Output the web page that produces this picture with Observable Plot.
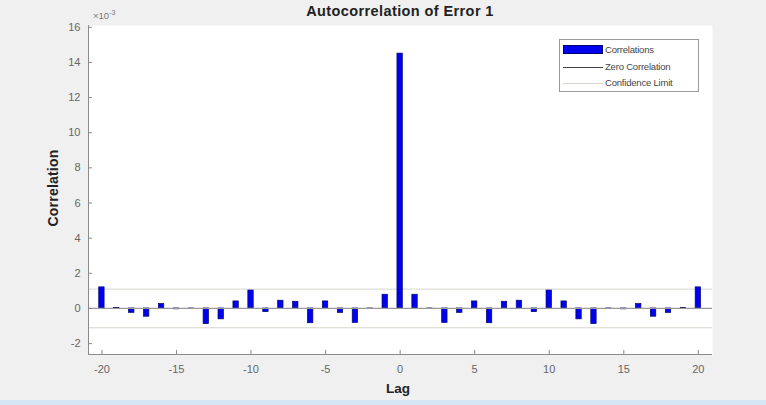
<!DOCTYPE html>
<html><head><meta charset="utf-8">
<script src="https://cdn.jsdelivr.net/npm/d3@7"></script>
<script src="https://cdn.jsdelivr.net/npm/@observablehq/plot@0.6"></script>
<style>
html,body{margin:0;padding:0;background:#f0f0f0;}
#wrap{position:relative;width:766px;height:405px;background:#f0f0f0;font-family:"Liberation Sans",Arial,sans-serif;overflow:hidden;}
#wrap svg{position:absolute;left:0;top:0;background:transparent;}
.t{position:absolute;white-space:nowrap;}
</style></head>
<body><div id="wrap"></div>
<script>
const lags = [-20,-19,-18,-17,-16,-15,-14,-13,-12,-11,-10,-9,-8,-7,-6,-5,-4,-3,-2,-1,0,1,2,3,4,5,6,7,8,9,10,11,12,13,14,15,16,17,18,19,20];
const correlations = [1.2,0.02,-0.25,-0.47,0.25,-0.05,-0.04,-0.89,-0.62,0.4,1.02,-0.21,0.44,0.38,-0.84,0.4,-0.25,-0.82,-0.04,0.78,14.5,0.78,-0.04,-0.82,-0.25,0.4,-0.84,0.38,0.44,-0.21,1.02,0.4,-0.62,-0.89,-0.04,-0.05,0.25,-0.47,-0.25,0.02,1.2];
const confidenceLimit = 1.1;
const yTicks = [-2,0,2,4,6,8,10,12,14,16];
const xTicks = [-20,-15,-10,-5,0,5,10,15,20];
const titleText = "Autocorrelation of Error 1";
const xLabel = "Lag";
const yLabel = "Correlation";
const legendLabels = ["Correlations","Zero Correlation","Confidence Limit"];

const data = lags.map((l,i)=>({lag:l, v:correlations[i]}));
const xDom = [-20.9, 20.95];
const yDom = [-2.62, 16.1];

const chart = Plot.plot({
  width:766, height:405,
  marginLeft:88, marginRight:54, marginTop:25, marginBottom:51,
  style:{background:"transparent", color:"#666", fontFamily:"Liberation Sans, Arial, sans-serif", fontSize:"11px"},
  x:{domain:xDom},
  y:{domain:yDom},
  marks:[
    Plot.frame({fill:"white", stroke:null}),
    Plot.ruleY([confidenceLimit, -confidenceLimit], {stroke:"#d6d6cc", strokeWidth:1}),
    Plot.rectY(data, {x1:d=>d.lag-0.18, x2:d=>d.lag+0.18, y1:0, y2:"v", fill:"#0000f0", stroke:"#00006e", strokeWidth:0.7}),
    Plot.ruleY([0], {stroke:"#9a9a9a", strokeWidth:1.3}),
    Plot.axisY({ticks:yTicks, tickSize:0, tickPadding:8, tickFormat:d=>String(d), label:null, fill:"#666", fontSize:11}),
    Plot.axisX({ticks:xTicks, tickSize:0, tickPadding:11, tickFormat:d=>String(d), label:null, fill:"#666", fontSize:11}),
    Plot.ruleY(yTicks, {x1:xDom[0], x2:xDom[0]+0.27, stroke:"#8a8a8a"}),
    Plot.ruleX(xTicks, {y1:yDom[0], y2:yDom[0]+0.23, stroke:"#8a8a8a"}),
    Plot.ruleX([xDom[0]], {stroke:"#8a8a8a", strokeWidth:1}),
    Plot.ruleY([yDom[0]], {stroke:"#8a8a8a", strokeWidth:1})
  ]
});
const wrap = document.getElementById("wrap");
wrap.appendChild(chart);

function addText(txt, css){ const d=document.createElement("div"); d.className="t"; d.textContent=txt; Object.assign(d.style, css); wrap.appendChild(d); return d; }
addText(titleText, {left:"400px", top:"3px", transform:"translateX(-50%)", fontWeight:"bold", fontSize:"14.5px", letterSpacing:"0.4px", color:"#222"});
const ex = addText("", {left:"93px", top:"9px", fontSize:"9.5px", color:"#777"});
ex.innerHTML = "&times;10<sup style='font-size:7px'>-3</sup>";
addText(xLabel, {left:"398px", top:"381px", transform:"translateX(-50%)", fontWeight:"bold", fontSize:"13.5px", color:"#222"});
addText(yLabel, {left:"53px", top:"188px", transform:"translate(-50%,-50%) rotate(-90deg)", fontWeight:"bold", fontSize:"14px", letterSpacing:"0.2px", color:"#222"});

const lg = document.createElement("div");
Object.assign(lg.style, {position:"absolute", left:"559px", top:"39px", width:"140px", height:"53px", background:"white", border:"1px solid #9a9a9a", boxSizing:"border-box"});
wrap.appendChild(lg);
const rowsY = [10, 27, 43];
const sw = [
  {css:{background:"#0000f0", border:"1px solid #00006e", height:"9px", top:(rowsY[0]-5)+"px"}},
  {css:{background:"#444", height:"1px", top:rowsY[1]+"px"}},
  {css:{background:"#d6d6cc", height:"1px", top:rowsY[2]+"px"}}
];
legendLabels.forEach((lab,i)=>{
  const s=document.createElement("div");
  Object.assign(s.style,{position:"absolute", left:"3px", width:"40px", boxSizing:"border-box"}, sw[i].css);
  lg.appendChild(s);
  const t=document.createElement("div");
  Object.assign(t.style,{position:"absolute", left:"45px", top:(rowsY[i]-6)+"px", fontSize:"9.5px", color:"#444", whiteSpace:"nowrap", letterSpacing:"-0.2px"});
  t.textContent=lab; lg.appendChild(t);
});
const band=document.createElement("div");
Object.assign(band.style,{position:"absolute", left:"0", top:"400px", width:"766px", height:"5px", background:"#d6e6f4"});
wrap.appendChild(band);
</script></body></html>
